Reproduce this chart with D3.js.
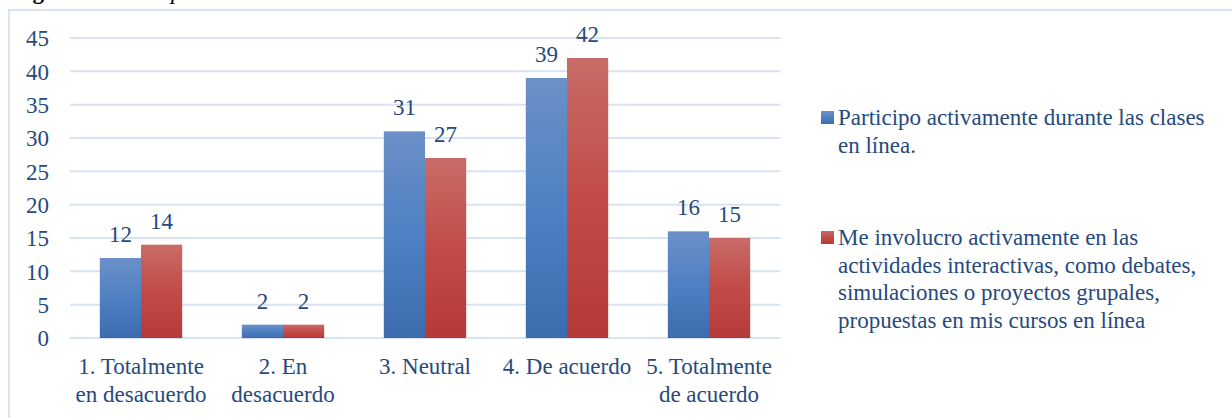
<!DOCTYPE html>
<html>
<head>
<meta charset="utf-8">
<script src="https://cdn.jsdelivr.net/npm/d3@7"></script>
<style>
  html, body { margin: 0; padding: 0; background: #fff; }
  svg { display: block; }
  svg text { font-family: "Liberation Serif", "DejaVu Serif", "Noto Serif", Tinos, FreeSerif, "Times New Roman", Times, serif; }
</style>
</head>
<body>
<div id="chart"></div>
<script>
/*
  Grouped bar chart
*/

var categories = [
  ["1. Totalmente", "en desacuerdo"],
  ["2. En", "desacuerdo"],
  ["3. Neutral"],
  ["4. De acuerdo"],
  ["5. Totalmente", "de acuerdo"]
];
var seriesNames = [
  ["Participo activamente durante las clases", "en línea."],
  ["Me involucro activamente en las", "actividades interactivas, como debates,", "simulaciones o proyectos grupales,", "propuestas en mis cursos en línea"]
];
var participoValues = [12, 2, 31, 39, 16];
var involucroValues = [14, 2, 27, 42, 15];
var yTicks = [0, 5, 10, 15, 20, 25, 30, 35, 40, 45];

var W = 1232, H = 418;
var margin = {top: 38, left: 70, right: 452, bottom: 80};
var plotW = W - margin.left - margin.right,
    plotH = H - margin.top - margin.bottom;
var textColor = "#264a7e";
var gridColor = "#d9e2f3";

var catKeys = categories.map(function(c){ return c.join(" "); });
var seriesValues = [participoValues, involucroValues];

var svg = d3.select("#chart").append("svg")
  .attr("width", W)
  .attr("height", H);

//Gradients for the bars
var defs = svg.append("defs");
var grads = [
  {id: "gBlue", top: "#6b90c7", mid: "#4f80c3", bottom: "#3c6cae"},
  {id: "gRed", top: "#c86c67", mid: "#c24b48", bottom: "#b43a37"}
];
grads.forEach(function(g){
  var lg = defs.append("linearGradient")
    .attr("id", g.id)
    .attr("x1", 0).attr("y1", 0).attr("x2", 0).attr("y2", 1);
  lg.append("stop").attr("offset", "0%").attr("stop-color", g.top);
  lg.append("stop").attr("offset", "50%").attr("stop-color", g.mid);
  lg.append("stop").attr("offset", "100%").attr("stop-color", g.bottom);
});

//Caption cut at the top of the picture
var cap = svg.append("text")
  .attr("x", 12)
  .attr("y", -1)
  .style("font-size", "23px")
  .style("fill", "#000");
cap.append("tspan").style("font-weight", "bold").text("Figura 9. ");
cap.append("tspan").style("font-style", "italic").text("Participación activa");

//Chart frame
svg.append("rect")
  .attr("x", 9)
  .attr("y", 10)
  .attr("width", W + 20)
  .attr("height", H + 20)
  .style("fill", "none")
  .style("stroke", gridColor)
  .style("stroke-width", 2);

var g = svg.append("g")
  .attr("transform", "translate(" + margin.left + "," + margin.top + ")");

var x0 = d3.scaleBand()
  .domain(catKeys)
  .range([0, plotW])
  .paddingInner(0.42)
  .paddingOuter(0.21);

var x1 = d3.scaleBand()
  .domain(d3.range(seriesValues.length))
  .range([0, x0.bandwidth()]);

var y = d3.scaleLinear()
  .domain([0, 45])
  .range([plotH, 0]);

//Grid lines
g.append("g")
  .selectAll("line")
  .data(yTicks)
  .enter().append("line")
  .attr("x1", 0)
  .attr("x2", plotW)
  .attr("y1", function(d){ return y(d); })
  .attr("y2", function(d){ return y(d); })
  .style("stroke", gridColor)
  .style("stroke-width", 2);

//Y axis labels
var yAxis = g.append("g")
  .attr("transform", "translate(-21,0)")
  .call(d3.axisLeft(y).tickValues(yTicks).tickSize(0).tickPadding(0))
  .attr("font-family", null);
yAxis.select(".domain").remove();
yAxis.selectAll("text")
  .attr("dy", "0.34em")
  .style("font-size", "23px")
  .style("fill", textColor);

//Bars
var fills = ["url(#gBlue)", "url(#gRed)"];
var groups = g.selectAll(".cat")
  .data(catKeys)
  .enter().append("g")
  .attr("class", "cat")
  .attr("transform", function(d){ return "translate(" + x0(d) + ",0)"; });

groups.each(function(cat, ci){
  var grp = d3.select(this);
  seriesValues.forEach(function(vals, si){
    grp.append("rect")
      .attr("x", x1(si))
      .attr("y", y(vals[ci]))
      .attr("width", x1.bandwidth())
      .attr("height", plotH - y(vals[ci]))
      .style("fill", fills[si]);

    grp.append("text")
      .attr("x", x1(si) + x1.bandwidth() / 2)
      .attr("y", y(vals[ci]) - 16)
      .style("text-anchor", "middle")
      .style("font-size", "23px")
      .style("fill", textColor)
      .text(vals[ci]);
  });
});

//Category labels
var catLabels = g.append("g")
  .selectAll("text")
  .data(categories)
  .enter().append("text")
  .attr("x", function(d, i){ return x0(catKeys[i]) + x0.bandwidth() / 2; })
  .attr("y", plotH + 36)
  .style("text-anchor", "middle")
  .style("font-size", "23px")
  .style("fill", textColor);

catLabels.selectAll("tspan")
  .data(function(d){ return d; })
  .enter().append("tspan")
  .attr("x", function(){ return d3.select(this.parentNode).attr("x"); })
  .attr("dy", function(d, i){ return i === 0 ? 0 : 28; })
  .text(function(d){ return d; });

//Legend
var legendY = [125, 245];
var legend = svg.append("g");
seriesNames.forEach(function(lines, si){
  legend.append("rect")
    .attr("x", 821)
    .attr("y", legendY[si] - 14)
    .attr("width", 13)
    .attr("height", 13)
    .style("fill", fills[si]);

  var t = legend.append("text")
    .attr("x", 838)
    .attr("y", legendY[si])
    .style("font-size", "23px")
    .style("fill", textColor);

  lines.forEach(function(line, li){
    t.append("tspan")
      .attr("x", 838)
      .attr("dy", li === 0 ? 0 : 27.7)
      .text(line);
  });
});
</script>
</body>
</html>
